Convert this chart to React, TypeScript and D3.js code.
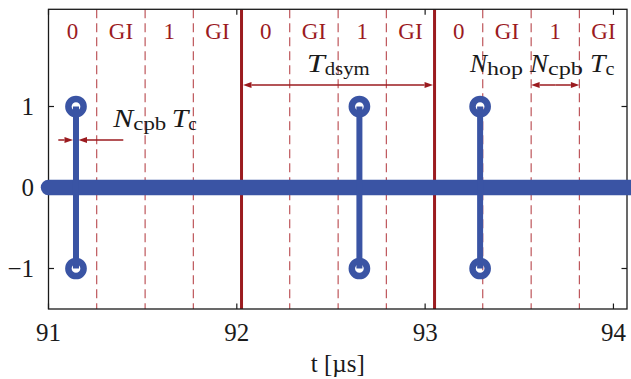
import React from "react";
import * as d3 from "d3";

// axis ticks
const xTicks = [91, 92, 93, 94];
const yTicks = [-1, 0, 1];

// chip / guard interval boundaries in microseconds
const bounds = [91.0, 91.256, 91.513, 91.769, 92.025, 92.281, 92.538, 92.794, 93.05, 93.306, 93.563, 93.819, 94.075];
const segLabels = ["0", "GI", "1", "GI", "0", "GI", "1", "GI", "0", "GI", "1", "GI"];

// received pulses (stems)
const stemT = [91.146, 92.651, 93.292];
const stemHigh = [1, 1, 1];
const stemLow = [-1, -1, -1];

// dense zero-valued samples drawn as one thick line
const zeroStart = 91.0;
const zeroEnd = 94.12;

const W = 631;
const H = 379;
const margin = { left: 48.5, right: 4, top: 9.3, bottom: 70 };

const BLUE = "#3a54a4";
const RED = "#9b1b1f";
const DASH = "#b8474c";
const INK = "#1a1a1a";
const SERIF = "'Liberation Serif', 'Times New Roman', serif";

function Arrow({ x1, x2, y }: { x1: number; x2: number; y: number }) {
  // line from x1 with a filled head at x2
  const dir = x2 > x1 ? 1 : -1;
  const len = 8.5;
  const hw = 3;
  return (
    <g>
      <line x1={x1} x2={x2 - dir * len} y1={y} y2={y} stroke={RED} strokeWidth={1.5} />
      <path d={`M${x2},${y} L${x2 - dir * len},${y - hw} L${x2 - dir * len},${y + hw} Z`} fill={RED} />
    </g>
  );
}

function DoubleArrow({ x1, x2, y }: { x1: number; x2: number; y: number }) {
  const mid = (x1 + x2) / 2;
  return (
    <g>
      <Arrow x1={mid} x2={x1} y={y} />
      <Arrow x1={mid} x2={x2} y={y} />
    </g>
  );
}

// math-like label: italic main letter + upright subscript
function Sym({ x, y, main, sub, mainW, subW }: { x: number; y: number; main: string; sub: string; mainW: number; subW: number }) {
  return (
    <g fontFamily={SERIF} fill={INK}>
      <text x={x} y={y} fontSize={25} fontStyle="italic" textLength={mainW} lengthAdjust="spacingAndGlyphs">
        {main}
      </text>
      <text x={x + mainW} y={y + 3} fontSize={18} textLength={subW} lengthAdjust="spacingAndGlyphs">
        {sub}
      </text>
    </g>
  );
}

export default function App() {
  const x = d3.scaleLinear().domain([91, 94.072]).range([margin.left, W - margin.right]);
  const y = d3.scaleLinear().domain([-1.5, 2.2]).range([H - margin.bottom, margin.top]);

  const x0 = x.range()[0];
  const x1 = x.range()[1];
  const yTop = y.range()[1];
  const yBot = y.range()[0];

  const segs = segLabels.map((lab, i) => ({ lab, t: (bounds[i] + bounds[i + 1]) / 2 }));
  const inner = bounds.slice(1, -1).map((t, i) => ({ t, solid: (i + 1) % 4 === 0 }));

  const tickLen = 5.5;

  return (
    <svg width={W} height={H} style={{ position: "absolute", left: 0, top: 0 }}>
      <rect width={W} height={H} fill="#fff" />

      {/* boundary lines */}
      {inner.map((b, i) =>
        b.solid ? (
          <line key={i} x1={x(b.t)} x2={x(b.t)} y1={yTop} y2={yBot} stroke={RED} strokeWidth={3} />
        ) : (
          <line key={i} x1={x(b.t)} x2={x(b.t)} y1={yTop} y2={yBot} stroke={DASH} strokeWidth={1.1} strokeDasharray="9,5" />
        )
      )}

      {/* segment labels */}
      {segs.map((s, i) => (
        <text key={i} x={x(s.t)} y={39} textAnchor="middle" fontFamily={SERIF} fontSize={23} fill={RED}>
          {s.lab}
        </text>
      ))}

      {/* axes box */}
      <rect x={x0} y={yTop} width={x1 - x0} height={yBot - yTop} fill="none" stroke={INK} strokeWidth={1.3} />

      {/* ticks, inside on all sides */}
      {xTicks.map((t) => (
        <g key={t}>
          <line x1={x(t)} x2={x(t)} y1={yBot} y2={yBot - tickLen} stroke={INK} strokeWidth={1.2} />
          <line x1={x(t)} x2={x(t)} y1={yTop} y2={yTop + tickLen} stroke={INK} strokeWidth={1.2} />
          <text x={x(t)} y={340.5} textAnchor="middle" fontFamily={SERIF} fontSize={25} fill={INK}>
            {t}
          </text>
        </g>
      ))}
      {yTicks.map((v) => (
        <g key={v}>
          <line x1={x0} x2={x0 + tickLen} y1={y(v)} y2={y(v)} stroke={INK} strokeWidth={1.2} />
          <line x1={x1} x2={x1 - tickLen} y1={y(v)} y2={y(v)} stroke={INK} strokeWidth={1.2} />
          <text x={34} y={y(v)} dy="0.34em" textAnchor="end" fontFamily={SERIF} fontSize={25} fill={INK}>
            {v < 0 ? `\u2212${Math.abs(v)}` : v}
          </text>
        </g>
      ))}

      {/* zero samples */}
      <line x1={x(zeroStart)} x2={x(zeroEnd)} y1={y(0)} y2={y(0)} stroke={BLUE} strokeWidth={15.5} strokeLinecap="round" />

      {/* stems */}
      {stemT.map((t, i) => (
        <g key={i}>
          <line x1={x(t)} x2={x(t)} y1={y(stemHigh[i])} y2={y(stemLow[i])} stroke={BLUE} strokeWidth={6} />
          <circle cx={x(t)} cy={y(stemHigh[i])} r={7.6} fill="none" stroke={BLUE} strokeWidth={6.5} />
          <circle cx={x(t)} cy={y(stemLow[i])} r={7.6} fill="none" stroke={BLUE} strokeWidth={6.5} />
        </g>
      ))}

      {/* annotations */}
      <Arrow x1={58.3} x2={x(stemT[0]) - 3} y={140} />
      <Arrow x1={123.3} x2={x(stemT[0]) + 2.5} y={140} />
      <Sym x={113.3} y={126.5} main="N" sub="cpb" mainW={20} subW={33} />
      <Sym x={171.7} y={126.5} main="T" sub="c" mainW={16.5} subW={8.5} />

      <DoubleArrow x1={x(bounds[4]) + 1.5} x2={x(bounds[8]) - 1.5} y={85} />
      <Sym x={306.7} y={71.5} main="T" sub="dsym" mainW={18} subW={45} />

      <DoubleArrow x1={x(bounds[10])} x2={x(bounds[11])} y={85} />
      <Sym x={470} y={71.5} main="N" sub="hop" mainW={17} subW={36} />
      <Sym x={530} y={71.5} main="N" sub="cpb" mainW={18} subW={35} />
      <Sym x={590} y={71.5} main="T" sub="c" mainW={15.5} subW={9} />

      <text x={(x0 + x1) / 2} y={372} textAnchor="middle" fontFamily={SERIF} fontSize={25} fill={INK}>
        t [µs]
      </text>
    </svg>
  );
}
